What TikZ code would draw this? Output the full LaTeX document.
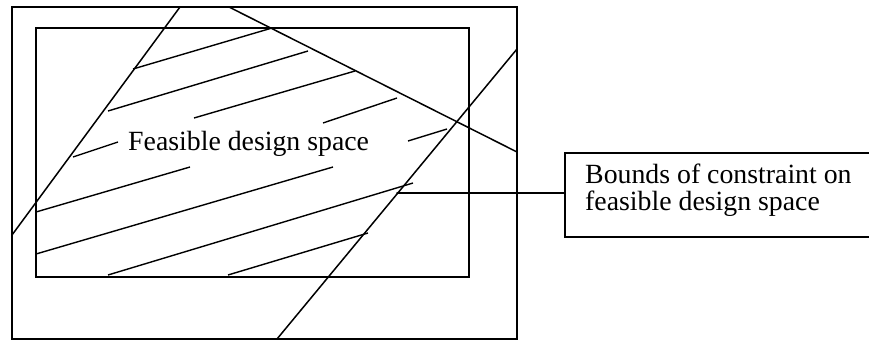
\documentclass[tikz,border=0pt]{standalone}
\usepackage{fontspec}
\setmainfont{Liberation Serif}
\begin{document}
\begin{tikzpicture}[x=1pt,y=-1pt,
  edge/.style={line width=1.5pt,line cap=round},
  frame/.style={line width=1.5pt},
  hatch/.style={line width=1.4pt},
  lbl/.style={font=\fontsize{27.8}{27}\selectfont,inner sep=0pt}]
\useasboundingbox (0,0) rectangle (869,340);
% outer and inner frames
\draw[frame] (12,7) rectangle (517,339);
\draw[frame] (36,28) rectangle (469,277);
% constraint lines
\draw[edge] (180,7) -- (12,235);
\draw[edge] (229,7) -- (517,152);
\draw[edge] (277,339) -- (517,49);
% hatching
\draw[hatch] (133,69) -- (272,28);
\draw[hatch] (108,111) -- (308,51);
\draw[hatch] (194,118) -- (355,71);
\draw[hatch] (73,157) -- (118,142);
\draw[hatch] (36,212) -- (190,167);
\draw[hatch] (36,254) -- (333,167);
\draw[hatch] (108,275) -- (413,183);
\draw[hatch] (228,275) -- (368,233);
\draw[hatch] (323,123) -- (397,98);
\draw[hatch] (408,141) -- (447,129);
% texts
\node[lbl,anchor=base west] (feas) at (128,150) {Feasible design space};
\node[draw,line width=1.5pt,anchor=north west,minimum width=330pt,minimum height=84pt,inner sep=0pt] (bbox) at (564,152) {};
\node[lbl,anchor=base west,align=left] (btxt) at (585,210) {Bounds of constraint on\\feasible design space};
\coordinate (lstart) at (397,193);
\draw[edge] (lstart) -- (lstart -| bbox.west);
\end{tikzpicture}
\end{document}
